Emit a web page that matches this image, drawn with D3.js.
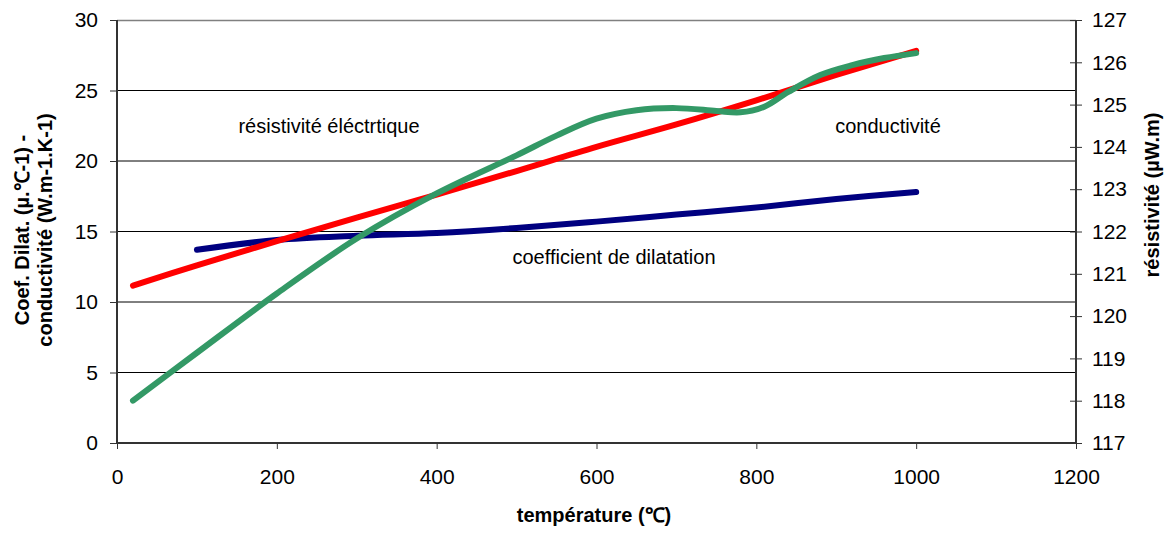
<!DOCTYPE html>
<html>
<head>
<meta charset="utf-8">
<script src="https://cdn.jsdelivr.net/npm/d3@7"></script>
<style>
  body { margin: 0; background: #fff; }
  svg text { font-family: "Liberation Sans", Arial, sans-serif; }
</style>
</head>
<body>
<div id="chart"></div>
<script>
// chart values
const xTicks = [0, 200, 400, 600, 800, 1000, 1200];
const leftTicks = [0, 5, 10, 15, 20, 25, 30];
const rightTicks = [117, 118, 119, 120, 121, 122, 123, 124, 125, 126, 127];

// coefficient de dilatation (left axis)
const dilatT = [100, 200, 300, 400, 500, 600, 700, 800, 900, 1000];
const dilatV = [13.7, 14.4, 14.7, 14.9, 15.25, 15.7, 16.2, 16.7, 17.3, 17.8];

// conductivité (left axis)
const condT = [20, 100, 200, 300, 400, 500, 550, 600, 650, 700, 750, 780, 810, 840, 880, 920, 960, 1000];
const condV = [3.0, 6.4, 10.6, 14.5, 17.7, 20.4, 21.8, 23.0, 23.6, 23.75, 23.55, 23.45, 23.85, 24.9, 26.1, 26.8, 27.3, 27.65];

// résistivité éléctrique (right axis)
const resT = [20, 100, 200, 300, 400, 500, 600, 700, 800, 900, 1000];
const resV = [120.72, 121.2, 121.77, 122.33, 122.87, 123.43, 124.0, 124.53, 125.1, 125.7, 126.27];

const W = 1171, H = 533;
const margin = {top: 20, right: 95, bottom: 90, left: 117};
const width = W - margin.left - margin.right,
      height = H - margin.top - margin.bottom;

const svg = d3.select("#chart").append("svg")
  .attr("width", W).attr("height", H);
const g = svg.append("g")
  .attr("transform", "translate(" + margin.left + "," + margin.top + ")");

const x = d3.scaleLinear().domain([0, 1200]).range([0, width]);
const yL = d3.scaleLinear().domain([0, 30]).range([height, 0]);
const yR = d3.scaleLinear().domain([117, 127]).range([height, 0]);

// gridlines
g.selectAll(".grid").data(leftTicks.slice(1, -1)).enter()
  .append("line")
  .attr("x1", 0).attr("x2", width)
  .attr("y1", d => yL(d)).attr("y2", d => yL(d))
  .attr("stroke", "#000").attr("stroke-width", 1);

// top border
g.append("line").attr("x1", 0).attr("x2", width).attr("y1", 0.5).attr("y2", 0.5)
  .attr("stroke", "#808080").attr("stroke-width", 1.5);

// axes
const axisX = g.append("g").attr("transform", "translate(0," + height + ")")
  .call(d3.axisBottom(x).tickValues(xTicks).tickFormat(d3.format("d")).tickSize(6).tickPadding(20));
const axisL = g.append("g")
  .call(d3.axisLeft(yL).tickValues(leftTicks).tickSize(7).tickPadding(12));
const axisR = g.append("g").attr("transform", "translate(" + width + ",0)")
  .call(d3.axisRight(yR).tickValues(rightTicks).tickSize(6).tickPadding(10));
axisR.selectAll(".tick line").attr("x1", -6).attr("x2", 6);

[axisX, axisL, axisR].forEach(a => {
  a.select(".domain").attr("stroke", "#333").attr("stroke-width", 2);
  a.selectAll(".tick line").attr("stroke", "#333");
  a.selectAll(".tick text").attr("font-size", 21).attr("fill", "#000")
    .style("font-family", "'Liberation Sans', Arial, sans-serif");
});
axisX.select(".domain").attr("d", "M0,0H" + width);
axisL.select(".domain").attr("d", "M0,0V" + height);
axisR.select(".domain").attr("d", "M0,0V" + height);

// lines
const lineL = d3.line().curve(d3.curveCatmullRom.alpha(0.5))
  .x(d => x(d[0])).y(d => yL(d[1]));
const lineR = d3.line().curve(d3.curveCatmullRom.alpha(0.5))
  .x(d => x(d[0])).y(d => yR(d[1]));

function draw(path, color) {
  g.append("path").attr("d", path)
    .attr("fill", "none").attr("stroke", color)
    .attr("stroke-width", 6).attr("stroke-linecap", "round")
    .attr("stroke-linejoin", "round");
}
draw(lineL(d3.zip(dilatT, dilatV)), "#000080");
draw(lineR(d3.zip(resT, resV)), "#ff0000");
draw(lineL(d3.zip(condT, condV)), "#339966");

// labels inside the plot
const labels = [
  {t: "résistivité éléctrtique", x: 329, y: 133},
  {t: "conductivité", x: 888, y: 133},
  {t: "coefficient de dilatation", x: 614, y: 264}
];
svg.selectAll(".lbl").data(labels).enter().append("text")
  .attr("x", d => d.x).attr("y", d => d.y)
  .attr("text-anchor", "middle").attr("font-size", 20)
  .text(d => d.t);

// axis titles
svg.append("text").attr("x", 594).attr("y", 522)
  .attr("text-anchor", "middle").attr("font-size", 20).attr("font-weight", "bold")
  .text("température (℃)");

const lt = svg.append("text").attr("transform", "translate(29,230) rotate(-90)")
  .attr("text-anchor", "middle").attr("font-size", 20).attr("font-weight", "bold");
lt.append("tspan").attr("x", 0).attr("dy", 0).text("Coef. Dilat. (µ.℃-1)  -");
lt.append("tspan").attr("x", 0).attr("dy", 23).text("conductivité (W.m-1.K-1)");

svg.append("text").attr("transform", "translate(1159,195) rotate(-90)")
  .attr("text-anchor", "middle").attr("font-size", 20).attr("font-weight", "bold")
  .text("résistivité (µW.m)");
</script>
</body>
</html>
